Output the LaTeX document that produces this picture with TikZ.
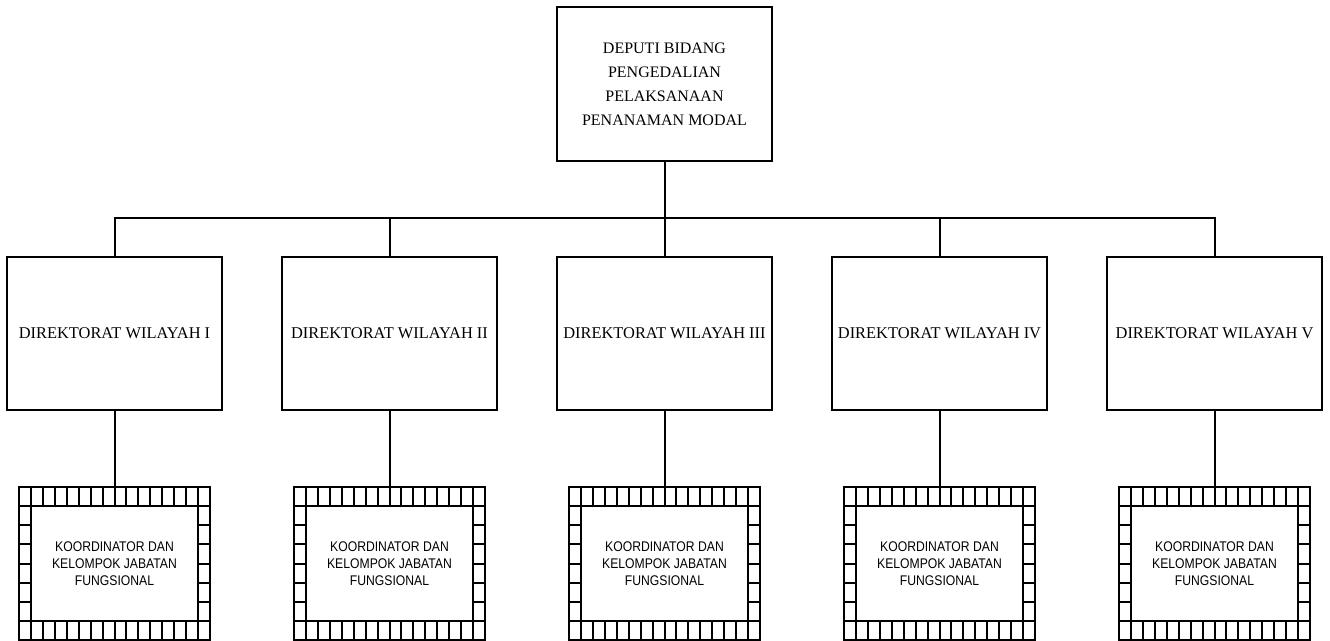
\documentclass[tikz,border=0pt]{standalone}
\usepackage{fontspec}
\setmainfont{Liberation Serif}
\newfontfamily\koorfont[FakeStretch=0.87]{Liberation Sans}
\usetikzlibrary{calc}
\begin{document}
\begin{tikzpicture}[x=1pt,y=-1pt,
  line/.style={line width=2pt},
  headbox/.style={draw,line width=2pt,outer sep=0pt,minimum width=215pt,minimum height=154pt,
    inner sep=0pt,align=center,font=\fontsize{16}{24}\selectfont},
  dirbox/.style={draw,line width=2pt,outer sep=0pt,minimum width=215pt,minimum height=153pt,
    inner sep=0pt,align=center,font=\fontsize{16.4}{19}\selectfont},
  koorbox/.style={draw,line width=2pt,outer sep=0pt,minimum width=191pt,minimum height=153.6pt,
    inner sep=0pt,align=center,font=\koorfont\fontsize{14}{16.7}\selectfont},
]
\useasboundingbox (0,0) rectangle (1330,640);

% head of the unit
\node[headbox] (head) at (664.5,84)
  {DEPUTI BIDANG\\PENGEDALIAN\\PELAKSANAAN\\PENANAMAN MODAL};

% directorates and their functional groups
\foreach \i/\r in {1/I,2/II,3/III,4/IV,5/V} {
  \node[dirbox] (d\i) at ({114.5+275*(\i-1)},333.5) {DIREKTORAT WILAYAH \r};
  \node[koorbox] (k\i) at ({114.5+275*(\i-1)},563.5)
    {KOORDINATOR DAN\\KELOMPOK JABATAN\\FUNGSIONAL};
}

% connectors
\coordinate (bus) at (664.5,218);
\draw[line] (head.south) -- (bus);
\draw[line] (d1.north) -- (d1.north |- bus) -- (d5.north |- bus) -- (d5.north);
\foreach \i in {2,3,4} {
  \draw[line] (d\i.north |- bus) -- (d\i.north);
}
\foreach \i in {1,...,5} {
  \draw[line] (d\i.south) -- (k\i.north);
}

% cell border around each functional group box
\foreach \i in {1,...,5} {
  \draw[line] ($(k\i.north west)+(0,19.2)$) -- ($(k\i.north east)+(0,19.2)$);
  \draw[line] ($(k\i.south west)+(0,-19.2)$) -- ($(k\i.south east)+(0,-19.2)$);
  \foreach \k in {1,...,15} {
    \draw[line] ($(k\i.north west)+(\k*11.9375,0)$) -- ++(0,19.2);
    \draw[line] ($(k\i.south west)+(\k*11.9375,0)$) -- ++(0,-19.2);
  }
  \draw[line] ($(k\i.north west)+(11.9375,19.2)$) -- ++(0,115.2);
  \draw[line] ($(k\i.north east)+(-11.9375,19.2)$) -- ++(0,115.2);
  \foreach \j in {2,...,6} {
    \draw[line] ($(k\i.north west)+(0,\j*19.2)$) -- ++(11.9375,0);
    \draw[line] ($(k\i.north east)+(0,\j*19.2)$) -- ++(-11.9375,0);
  }
}
\end{tikzpicture}
\end{document}
